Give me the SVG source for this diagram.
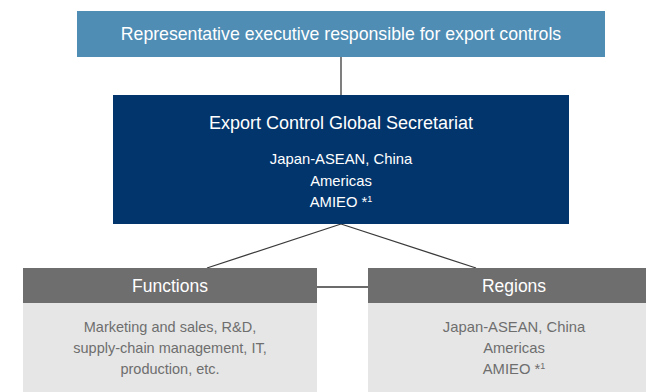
<svg xmlns="http://www.w3.org/2000/svg" width="646" height="392" viewBox="0 0 646 392">
  <style>
    text { font-family: "Liberation Sans", Arial, Helvetica, sans-serif; text-anchor: middle; }
    .w { fill: #ffffff; }
    .g { fill: #6e6e6e; }
    .conn { stroke: #3a3a3a; stroke-width: 1.3; fill: none; }
  </style>
  <rect width="646" height="392" fill="#ffffff"/>
  <g id="connectors">
    <line class="conn" x1="341" y1="57" x2="341" y2="95"/>
    <line class="conn" x1="341" y1="224" x2="207" y2="268"/>
    <line class="conn" x1="341" y1="224" x2="476" y2="268"/>
    <line class="conn" x1="317" y1="287" x2="368" y2="287"/>
  </g>
  <g id="executive">
    <rect x="77" y="11" width="528" height="46" fill="#4f8db5"/>
    <text class="w" x="341" y="40" font-size="17.7">Representative executive responsible for export controls</text>
  </g>
  <g id="secretariat">
    <rect x="113" y="95" width="456" height="129" fill="#02356c"/>
    <text class="w" x="341" y="129" font-size="18">Export Control Global Secretariat</text>
    <text class="w" x="341" y="164" font-size="14.8">Japan-ASEAN, China</text>
    <text class="w" x="341" y="185.5" font-size="14.8">Americas</text>
    <text class="w" x="341" y="207" font-size="14.8">AMIEO *<tspan font-size="9" dy="-5">1</tspan></text>
  </g>
  <g id="functions">
    <rect x="23" y="268" width="294" height="35" fill="#6e6e6e"/>
    <rect x="23" y="303" width="294" height="89" fill="#e6e6e6"/>
    <text class="w" x="170" y="292" font-size="17.5">Functions</text>
    <text class="g" x="170" y="332" font-size="14.5">Marketing and sales, R&amp;D,</text>
    <text class="g" x="170" y="353" font-size="14.5">supply-chain management, IT,</text>
    <text class="g" x="170" y="374" font-size="14.5">production, etc.</text>
  </g>
  <g id="regions">
    <rect x="368" y="268" width="294" height="35" fill="#6e6e6e"/>
    <rect x="368" y="303" width="294" height="89" fill="#e6e6e6"/>
    <text class="w" x="514" y="292" font-size="17.5">Regions</text>
    <text class="g" x="514" y="332" font-size="14.8">Japan-ASEAN, China</text>
    <text class="g" x="514" y="353" font-size="14.8">Americas</text>
    <text class="g" x="514" y="374" font-size="14.8">AMIEO *<tspan font-size="9" dy="-5">1</tspan></text>
  </g>
</svg>
